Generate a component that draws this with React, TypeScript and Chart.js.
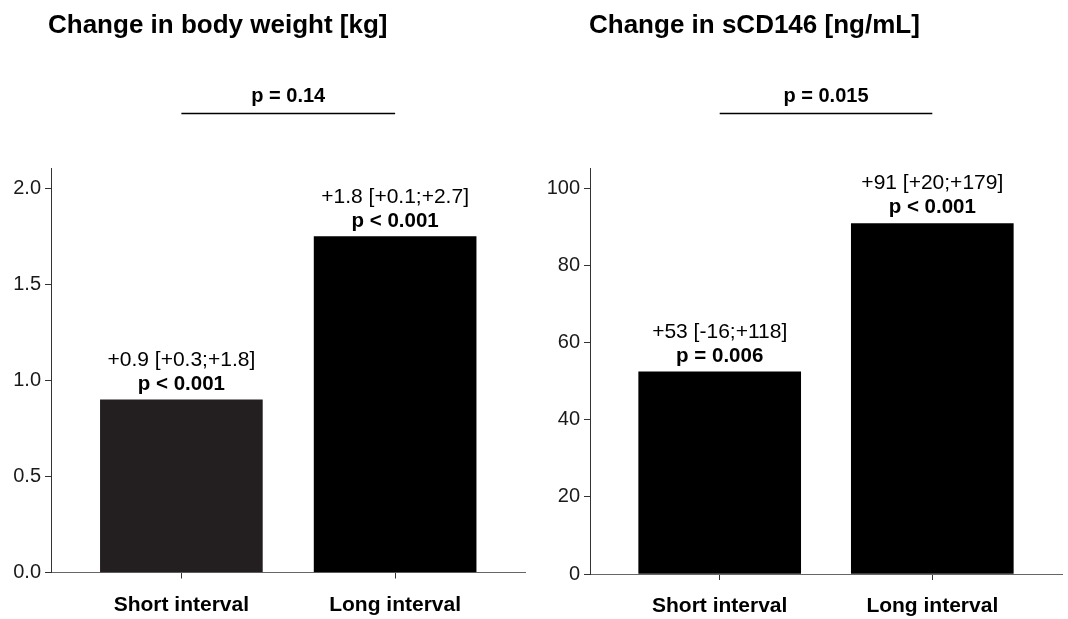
import React, { useEffect, useRef } from "react";
import { Chart, registerables } from "chart.js";

Chart.register(...registerables);

const FONT = "'Liberation Sans', Arial, Helvetica, sans-serif";

// ---- Data ----
const categories = ["Short interval", "Long interval"];

const weightTitle = "Change in body weight [kg]";
const weightValues = [0.9, 1.75];
const weightEstimates = ["+0.9 [+0.3;+1.8]", "+1.8 [+0.1;+2.7]"];
const weightPValues = ["p < 0.001", "p < 0.001"];
const weightComparison = "p = 0.14";
const weightColors = ["#231f20", "#000000"];

const cd146Title = "Change in sCD146 [ng/mL]";
const cd146Values = [52.5, 91];
const cd146Estimates = ["+53 [-16;+118]", "+91 [+20;+179]"];
const cd146PValues = ["p = 0.006", "p < 0.001"];
const cd146Comparison = "p = 0.015";
const cd146Colors = ["#000000", "#000000"];

type PanelCfg = {
  title: string;
  values: number[];
  estimates: string[];
  pvals: string[];
  comparison: string;
  colors: string[];
  yMax: number;
  step: number;
  decimals: number;
  axisLeft: number;
  bottom: number;
  padRight: number;
  titleX: number;
};

function makeChart(canvas: HTMLCanvasElement, cfg: PanelCfg) {
  const annot = {
    id: "annot",
    afterDatasetsDraw(chart: any) {
      const ctx = chart.ctx;
      const meta = chart.getDatasetMeta(0);
      ctx.save();
      ctx.fillStyle = "#000";
      ctx.textAlign = "center";
      ctx.textBaseline = "alphabetic";
      meta.data.forEach((bar: any, i: number) => {
        ctx.font = `normal 21px ${FONT}`;
        ctx.fillText(cfg.estimates[i], bar.x, bar.y - 34);
        ctx.font = `bold 20.5px ${FONT}`;
        ctx.fillText(cfg.pvals[i], bar.x, bar.y - 10);
      });
      ctx.restore();
    },
    afterDraw(chart: any) {
      const ctx = chart.ctx;
      const xs = chart.scales.x;
      const x0 = xs.getPixelForValue(0);
      const x1 = xs.getPixelForValue(1);
      ctx.save();
      ctx.fillStyle = "#000";
      ctx.textBaseline = "alphabetic";
      ctx.textAlign = "left";
      ctx.font = `bold 26px ${FONT}`;
      ctx.fillText(cfg.title, cfg.titleX, 33);
      ctx.textAlign = "center";
      ctx.font = `bold 20px ${FONT}`;
      ctx.fillText(cfg.comparison, (x0 + x1) / 2, 102);
      ctx.strokeStyle = "#000";
      ctx.lineWidth = 1.5;
      ctx.beginPath();
      ctx.moveTo(x0, 113.5);
      ctx.lineTo(x1, 113.5);
      ctx.stroke();
      ctx.restore();
    },
  };

  return new Chart(canvas, {
    type: "bar",
    data: {
      datasets: [
        {
          data: cfg.values.map((v, i) => ({ x: i, y: v })) as any,
          backgroundColor: cfg.colors,
          borderWidth: 0,
          barThickness: 162,
        },
      ],
    },
    options: {
      responsive: false,
      animation: false,
      devicePixelRatio: 1,
      layout: { padding: { top: 168, left: 0, right: cfg.padRight, bottom: 0 } },
      plugins: {
        legend: { display: false },
        tooltip: { enabled: false },
        title: { display: false },
      },
      scales: {
        x: {
          type: "linear",
          min: -0.61,
          max: 1.61,
          offset: false,
          afterBuildTicks: (s: any) => {
            s.ticks = [{ value: 0 }, { value: 1 }];
          },
          afterFit: (s: any) => {
            s.height = 619 - cfg.bottom;
          },
          ticks: {
            callback: (v: any) => categories[v] ?? "",
            font: { family: FONT, size: 21, weight: "bold" },
            color: "#000",
            padding: 14,
            autoSkip: false,
            maxRotation: 0,
          },
          grid: {
            offset: false,
            drawOnChartArea: false,
            drawTicks: true,
            tickLength: 6,
            color: "#333",
            lineWidth: 1,
          },
          border: { display: true, color: "#666", width: 1 },
        } as any,
        y: {
          min: 0,
          max: cfg.yMax,
          afterFit: (s: any) => {
            s.width = cfg.axisLeft;
          },
          ticks: {
            stepSize: cfg.step,
            includeBounds: false,
            callback: (v: any) => Number(v).toFixed(cfg.decimals),
            font: { family: FONT, size: 20 },
            color: "#1a1a1a",
            padding: 4,
          },
          grid: { drawOnChartArea: false, drawTicks: true, tickLength: 6, color: "#333", lineWidth: 1 },
          border: { display: true, color: "#333", width: 1 },
        } as any,
      },
    },
    plugins: [annot],
  } as any);
}

function Panel({ cfg }: { cfg: PanelCfg }) {
  const ref = useRef<HTMLCanvasElement | null>(null);
  useEffect(() => {
    if (!ref.current) return;
    const chart = makeChart(ref.current, cfg);
    return () => chart.destroy();
  }, []);
  return <canvas ref={ref} width={534} height={619} style={{ display: "block", width: 534, height: 619 }} />;
}

export default function App() {
  const left: PanelCfg = {
    title: weightTitle,
    values: weightValues,
    estimates: weightEstimates,
    pvals: weightPValues,
    comparison: weightComparison,
    colors: weightColors,
    yMax: 2.108,
    step: 0.5,
    decimals: 1,
    axisLeft: 51,
    bottom: 572.5,
    padRight: 8.5,
    titleX: 48,
  };
  const right: PanelCfg = {
    title: cd146Title,
    values: cd146Values,
    estimates: cd146Estimates,
    pvals: cd146PValues,
    comparison: cd146Comparison,
    colors: cd146Colors,
    yMax: 105.4,
    step: 20,
    decimals: 0,
    axisLeft: 56,
    bottom: 574,
    padRight: 6,
    titleX: 55,
  };
  return (
    <div
      style={{
        position: "fixed",
        top: 0,
        left: 0,
        width: 1068,
        height: 619,
        display: "flex",
        background: "#fff",
      }}
    >
      <Panel cfg={left} />
      <Panel cfg={right} />
    </div>
  );
}
